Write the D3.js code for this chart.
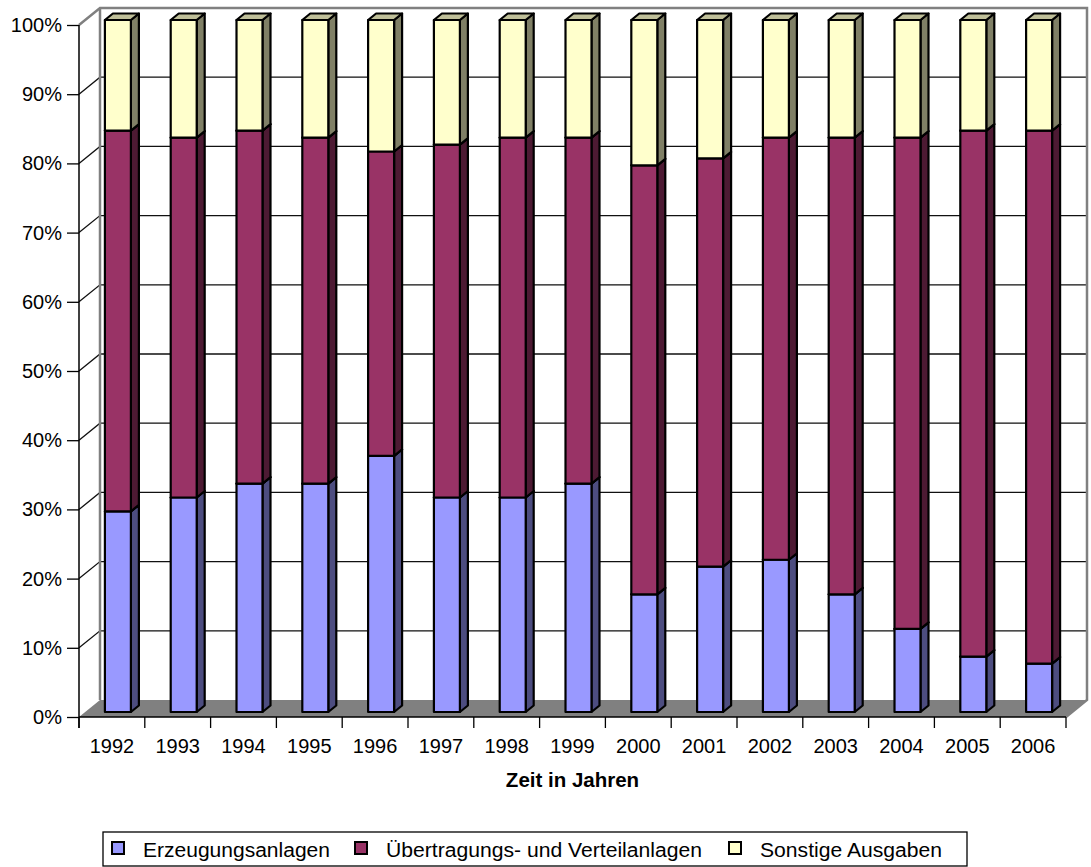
<!DOCTYPE html>
<html>
<head>
<meta charset="utf-8">
<script src="https://cdn.jsdelivr.net/npm/d3@7"></script>
<style>
  body { margin: 0; background: #fff; }
  svg { display: block; font-family: Arial, "Liberation Sans", sans-serif; }
</style>
</head>
<body>
<svg id="chart" width="1091" height="867"></svg>
<script>
const years = ["1992","1993","1994","1995","1996","1997","1998","1999","2000","2001","2002","2003","2004","2005","2006"];
const seriesNames = ["Erzeugungsanlagen", "Übertragungs- und Verteilanlagen", "Sonstige Ausgaben"];
const erzeugung   = [29, 31, 33, 33, 37, 31, 31, 33, 17, 21, 22, 17, 12,  8,  7];
const uebertragung = [55, 52, 51, 50, 44, 51, 52, 50, 62, 59, 61, 66, 71, 76, 77];
const sonstige    = [16, 17, 16, 17, 19, 18, 17, 17, 21, 20, 17, 17, 17, 16, 16];
const yTicks = [0, 10, 20, 30, 40, 50, 60, 70, 80, 90, 100];

const colors = ["#9999ff", "#993366", "#ffffcc"];
const sideColors = ["#4d4d80", "#4d1a33", "#808066"];
const topColors = ["#7373bf", "#73264d", "#bfbf99"];

const svg = d3.select("#chart");

const plotLeft = 79, plotRight = 1066, plotBottom = 717, plotTop = 25;
const depth = {dx: 21, dy: -17};
const barFront = {dx: 6, dy: -5};
const barBack = {dx: 14, dy: -11.5};

const x = d3.scaleBand().domain(years).range([plotLeft, plotRight]);
const y = d3.scaleLinear().domain([0, 100]).range([plotBottom, plotTop]);
const barW = x.bandwidth() * 0.395;

const rows = years.map((yr, i) => ({year: yr, a: erzeugung[i], b: uebertragung[i], c: sonstige[i]}));
const stacked = d3.stack().keys(["a", "b", "c"])(rows);

// walls
const bx0 = plotLeft + depth.dx, bx1 = plotRight + depth.dx;
const wall = svg.append("g");

// gridlines: side wall diagonal + back wall
yTicks.filter(v => v > 0 && v < 100).forEach(v => {
    wall.append("polyline")
        .attr("points", [[plotLeft, y(v)], [bx0, y(v) + depth.dy], [bx1, y(v) + depth.dy]].join(" "))
        .attr("fill", "none")
        .attr("stroke", "#111")
        .attr("stroke-width", 1.3);
});

// wall borders
wall.append("polyline")
    .attr("points", [[plotLeft, plotTop], [bx0, plotTop + depth.dy], [bx1, plotTop + depth.dy], [bx1, plotBottom + depth.dy], [plotRight, plotBottom]].join(" "))
    .attr("fill", "none").attr("stroke", "#808080").attr("stroke-width", 2.5);
wall.append("line")
    .attr("x1", bx0).attr("x2", bx0)
    .attr("y1", plotTop + depth.dy).attr("y2", plotBottom + depth.dy)
    .attr("stroke", "#808080").attr("stroke-width", 2.5);

// floor
wall.append("polygon")
    .attr("points", [[plotLeft, plotBottom], [plotRight, plotBottom], [bx1, plotBottom + depth.dy], [bx0, plotBottom + depth.dy]].join(" "))
    .attr("fill", "#808080");

// y axis
const yAxis = svg.append("g")
    .attr("transform", `translate(${plotLeft},0)`)
    .call(d3.axisLeft(y).tickValues(yTicks).tickFormat(d => d + "%").tickSize(12).tickPadding(5));
yAxis.select(".domain").remove();
yAxis.selectAll(".tick line").attr("stroke", "#000").attr("stroke-width", 1.3);
yAxis.selectAll(".tick text").attr("font-size", 20).attr("fill", "#000").attr("font-family", "Arial, 'Liberation Sans', sans-serif");
svg.append("line")
    .attr("x1", plotLeft).attr("x2", plotLeft).attr("y1", plotTop).attr("y2", plotBottom + 11)
    .attr("stroke", "#000").attr("stroke-width", 1.5);

// x axis
const xAxis = svg.append("g")
    .attr("transform", `translate(0,${plotBottom})`)
    .call(d3.axisBottom(x).tickSize(0).tickPadding(22));
xAxis.select(".domain").remove();
xAxis.selectAll(".tick text").attr("font-size", 20).attr("fill", "#000").attr("font-family", "Arial, 'Liberation Sans', sans-serif");
svg.append("line")
    .attr("x1", plotLeft).attr("x2", plotRight).attr("y1", plotBottom).attr("y2", plotBottom)
    .attr("stroke", "#000").attr("stroke-width", 1.5);
svg.append("g").selectAll("line")
    .data(years.map(d => x(d)).concat([plotRight]))
    .join("line")
    .attr("x1", d => d).attr("x2", d => d)
    .attr("y1", plotBottom).attr("y2", plotBottom + 11)
    .attr("stroke", "#000").attr("stroke-width", 1.3);

svg.append("text")
    .attr("x", (plotLeft + plotRight) / 2)
    .attr("y", 787)
    .attr("text-anchor", "middle")
    .attr("font-size", 20.5)
    .attr("font-weight", "bold")
    .text("Zeit in Jahren");

// bars
const bars = svg.append("g")
    .attr("stroke", "#000")
    .attr("stroke-width", 2.2)
    .attr("stroke-linejoin", "round");
const sdx = barBack.dx - barFront.dx, sdy = barBack.dy - barFront.dy;

years.forEach((yr, i) => {
    const x0 = x(yr) + x.bandwidth() / 2 - barW / 2 + barFront.dx;
    const x1 = x0 + barW;
    stacked.forEach((s, k) => {
        const y0 = y(s[i][0]) + barFront.dy;
        const y1 = y(s[i][1]) + barFront.dy;
        bars.append("polygon")
            .attr("points", [[x1, y0], [x1 + sdx, y0 + sdy], [x1 + sdx, y1 + sdy], [x1, y1]].join(" "))
            .attr("fill", sideColors[k]);
        bars.append("polygon")
            .attr("points", [[x0, y1], [x1, y1], [x1 + sdx, y1 + sdy], [x0 + sdx, y1 + sdy]].join(" "))
            .attr("fill", topColors[k]);
        bars.append("rect")
            .attr("x", x0).attr("y", y1)
            .attr("width", barW).attr("height", y0 - y1)
            .attr("fill", colors[k]);
    });
});

// legend
const legend = svg.append("g");
legend.append("rect")
    .attr("x", 103).attr("y", 832).attr("width", 864).attr("height", 34)
    .attr("fill", "#fff").attr("stroke", "#000").attr("stroke-width", 1.3);
const legendX = [112, 355, 729];
const legendW = [187, 316, 182];
seriesNames.forEach((name, k) => {
    legend.append("rect")
        .attr("x", legendX[k]).attr("y", 842)
        .attr("width", 12).attr("height", 12)
        .attr("fill", colors[k]).attr("stroke", "#000").attr("stroke-width", 2);
    legend.append("text")
        .attr("x", legendX[k] + 31).attr("y", 856.5)
        .attr("font-size", 20)
        .attr("textLength", legendW[k])
        .attr("lengthAdjust", "spacingAndGlyphs")
        .text(name);
});
</script>
</body>
</html>
